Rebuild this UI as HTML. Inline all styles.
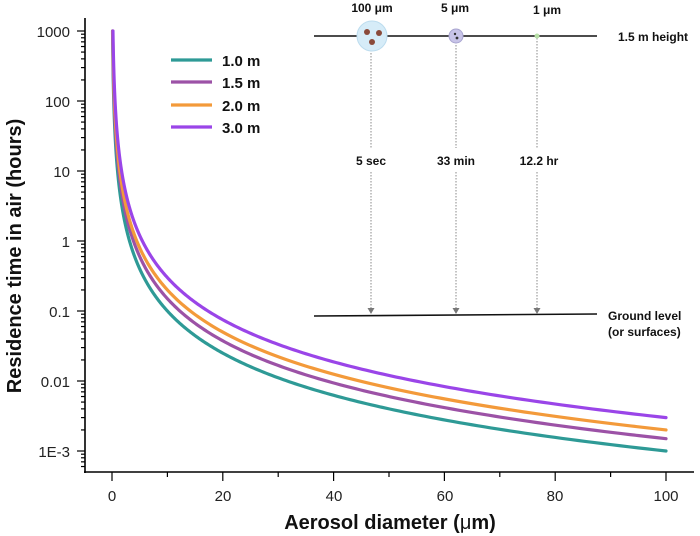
<!DOCTYPE html>
<html><head><meta charset="utf-8"><style>
html,body{margin:0;padding:0;background:#fff;}
svg{display:block;font-family:"Liberation Sans",Arial,sans-serif;}
</style></head><body>
<svg id="s" width="700" height="536" viewBox="0 0 700 536" xmlns="http://www.w3.org/2000/svg">
<rect width="700" height="536" fill="#fff"/>
<g stroke="#000" stroke-width="1.6" fill="none">
<line x1="85" y1="18" x2="85" y2="473"/>
<line x1="84" y1="472" x2="694" y2="472"/>
</g>
<g id="ticks" stroke="#000" stroke-width="1.2"></g>
<g font-size="15" fill="#222" text-anchor="end">
<text x="70" y="37">1000</text>
<text x="70" y="107">100</text>
<text x="70" y="177">10</text>
<text x="70" y="247">1</text>
<text x="70" y="317">0.1</text>
<text x="70" y="387">0.01</text>
<text x="70" y="457">1E-3</text>
</g>
<g font-size="15" fill="#222" text-anchor="middle">
<text x="112" y="501">0</text>
<text x="223" y="501">20</text>
<text x="334" y="501">40</text>
<text x="445" y="501">60</text>
<text x="555" y="501">80</text>
<text x="666" y="501">100</text>
</g>
<text x="0" y="0" transform="translate(21,256) rotate(-90)" font-size="20" font-weight="bold" text-anchor="middle" fill="#111">Residence time in air (hours)</text>
<text x="390" y="529" font-size="20" font-weight="bold" text-anchor="middle" fill="#111">Aerosol diameter (<tspan font-weight="normal">μ</tspan>m)</text>
<g id="curves" fill="none" stroke-width="3.2" stroke-linecap="round"></g>
<g stroke-width="3.2">
<line x1="171" y1="60" x2="212" y2="60" stroke="#2e9a96"/>
<line x1="171" y1="82" x2="212" y2="82" stroke="#9c52a6"/>
<line x1="171" y1="105" x2="212" y2="105" stroke="#f39a3a"/>
<line x1="171" y1="127" x2="212" y2="127" stroke="#9a45e8"/>
</g>
<g font-size="15" font-weight="bold" fill="#111">
<text x="222" y="66">1.0 m</text>
<text x="222" y="88">1.5 m</text>
<text x="222" y="111">2.0 m</text>
<text x="222" y="133">3.0 m</text>
</g>
<g stroke="#111" stroke-width="1.6">
<line x1="314" y1="36" x2="597" y2="36"/>
<path d="M314 316 L597 314" fill="none"/>
</g>
<g stroke="#888" stroke-width="1" stroke-dasharray="1.5,1.5">
<line x1="371" y1="50" x2="371" y2="148"/>
<line x1="456" y1="42" x2="456" y2="148"/>
<line x1="537" y1="38" x2="537" y2="148"/>
<line x1="371" y1="172" x2="371" y2="308"/>
<line x1="456" y1="172" x2="456" y2="308"/>
<line x1="537" y1="172" x2="537" y2="308"/>
</g>
<g fill="#777">
<path d="M367.5 308 L374.5 308 L371 314Z"/>
<path d="M452.5 308 L459.5 308 L456 314Z"/>
<path d="M533.5 308 L540.5 308 L537 314Z"/>
</g>
<circle cx="372" cy="36" r="15" fill="#d6ecf8" stroke="#bcdcee"/>
<circle cx="367" cy="32" r="3" fill="#8a4a3a"/>
<circle cx="379" cy="33" r="3" fill="#8a4a3a"/>
<circle cx="372" cy="42" r="3" fill="#8a4a3a"/>
<circle cx="456" cy="36" r="7" fill="#c8c4e8" stroke="#a8a4d0"/>
<circle cx="455" cy="34" r="1.2" fill="#333"/>
<circle cx="457" cy="38" r="1.4" fill="#333"/>
<circle cx="537" cy="36" r="2.5" fill="#b8e0a8"/>
<g font-size="12" font-weight="bold" fill="#111" text-anchor="middle">
<text x="372" y="12">100 μm</text>
<text x="455" y="12">5 μm</text>
<text x="547" y="14">1 μm</text>
<text x="371" y="165">5 sec</text>
<text x="456" y="165">33 min</text>
<text x="539" y="165">12.2 hr</text>
</g>
<g font-size="12" font-weight="bold" fill="#111">
<text x="618" y="41">1.5 m height</text>
<text x="608" y="320">Ground level</text>
<text x="608" y="336">(or surfaces)</text>
</g>
</svg>
<script>
(function(){
var NS="http://www.w3.org/2000/svg";
var tk=document.getElementById("ticks"),cv=document.getElementById("curves");
function Y(t){return 31+(3-Math.log10(t))*70;}
function X(d){return 112+d*5.54;}
var s="";
for(var e=-4;e<=3;e++){for(var m=1;m<10;m++){var y=Y(m*Math.pow(10,e));if(y<18||y>472)continue;
var L=(m==1)?8:4;s+='<line x1="'+(85-L)+'" y1="'+y+'" x2="85" y2="'+y+'"/>';}}
for(var d=0;d<=100;d+=10){var x=X(d);s+='<line x1="'+x+'" y1="472" x2="'+x+'" y2="'+(472+(d%20==0?9:5))+'"/>';}
tk.innerHTML=s;
var H=[[1,"#2e9a96"],[1.5,"#9c52a6"],[2,"#f39a3a"],[3,"#9a45e8"]];
H.forEach(function(h){
 var d0=Math.sqrt(10*h[0]/1000);
 var pts=[];
 for(var i=0;i<=400;i++){var d=d0*Math.pow(100/d0,i/400);pts.push(X(d).toFixed(2)+","+Y(10*h[0]/(d*d)).toFixed(2));}
 var el=document.createElementNS(NS,"path");
 el.setAttribute("d","M"+pts.join(" L"));el.setAttribute("stroke",h[1]);cv.appendChild(el);
});
})();
</script>
</body></html>
